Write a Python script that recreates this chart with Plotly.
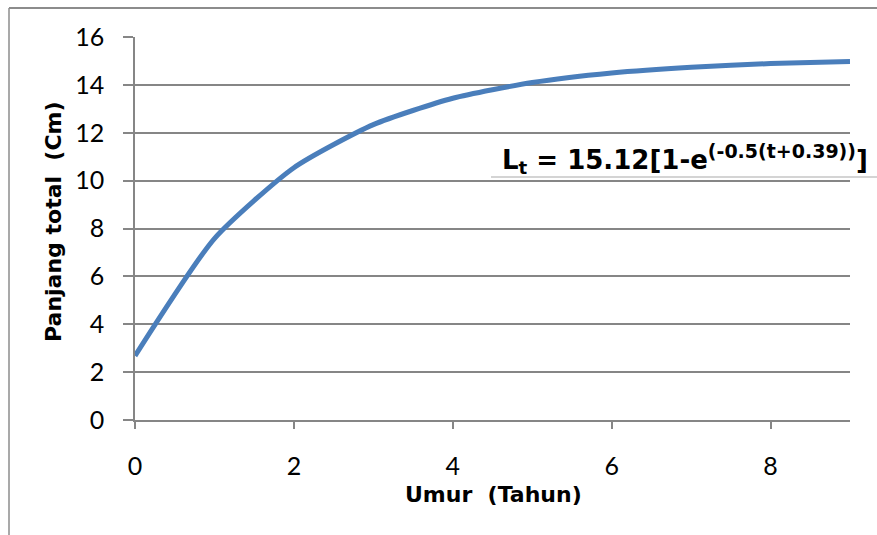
import plotly.graph_objects as go

# Fish length by age (von Bertalanffy growth)
umur = [0, 1, 2, 3, 4, 5, 6, 7, 8, 9]
panjang = [2.68, 7.58, 10.54, 12.34, 13.44, 14.10, 14.50, 14.74, 14.89, 14.98]

x_ticks = [0, 2, 4, 6, 8]
y_ticks = [0, 2, 4, 6, 8, 10, 12, 14, 16]

W, H = 877, 535
L, R, T, B = 135, 27, 37, 115
pw, ph = W - L - R, H - T - B


def px(xp):
    return (xp - L) / pw


def py(yp):
    return (H - B - yp) / ph


grid = "#868686"
tick_font = dict(family="Lato, Open Sans, sans-serif", size=25, color="#000000")
title_font = dict(family="DejaVu Sans, Verdana, sans-serif", size=22, color="#000000")

eq_text = ("<b>L<sub>t</sub> = 15.12[1-e"
           "<sup><span style='font-size:19px'>(-0.5(t+0.39))</span></sup>]</b>")

fig = go.Figure()
fig.add_trace(go.Scatter(
    x=umur, y=panjang, mode="lines",
    line=dict(color="#4A7EBB", width=5, shape="spline", smoothing=0.6),
    hoverinfo="skip", showlegend=False,
))

fig.update_layout(
    width=W, height=H,
    margin=dict(l=L, r=R, t=T, b=B, pad=0),
    paper_bgcolor="#ffffff", plot_bgcolor="#ffffff",
    xaxis=dict(
        range=[0, 9], tickvals=x_ticks, ticktext=[str(v) for v in x_ticks],
        showgrid=False, zeroline=False,
        showline=True, linecolor=grid, linewidth=1.5,
        ticks="outside", ticklen=7, tickwidth=1.5, tickcolor=grid,
        tickfont=tick_font, ticklabelstandoff=16,
    ),
    yaxis=dict(
        range=[0, 16], tickvals=y_ticks, ticktext=[str(v) for v in y_ticks],
        showgrid=True, gridcolor=grid, gridwidth=1.5, zeroline=False,
        showline=True, linecolor=grid, linewidth=1.5,
        ticks="outside", ticklen=10, tickwidth=1.5, tickcolor=grid,
        tickfont=tick_font, ticklabelstandoff=14,
    ),
    annotations=[
        dict(text="<b>Panjang total  (Cm)</b>", textangle=-90,
             x=px(53), y=py(222), xref="paper", yref="paper",
             xanchor="center", yanchor="middle", showarrow=False, font=title_font),
        dict(text="<b>Umur  (Tahun)</b>",
             x=px(493), y=py(494), xref="paper", yref="paper",
             xanchor="center", yanchor="middle", showarrow=False, font=title_font),
        dict(text=eq_text,
             x=px(500), y=py(159), xref="paper", yref="paper",
             xanchor="left", yanchor="middle", showarrow=False,
             font=dict(family="DejaVu Sans, Verdana, sans-serif", size=26, color="#000000")),
    ],
    shapes=[
        # underline of the equation label
        dict(type="line", xref="paper", yref="paper",
             x0=px(491), x1=px(877), y0=py(177), y1=py(177),
             line=dict(color="#d4d4d4", width=2)),
        # chart frame (left and top edges)
        dict(type="line", xref="paper", yref="paper",
             x0=px(9), x1=px(9), y0=py(8), y1=py(535),
             line=dict(color="#8c8c8c", width=1.5)),
        dict(type="line", xref="paper", yref="paper",
             x0=px(9), x1=px(877), y0=py(8), y1=py(8),
             line=dict(color="#8c8c8c", width=2)),
    ],
)

fig.write_html("out.html")
